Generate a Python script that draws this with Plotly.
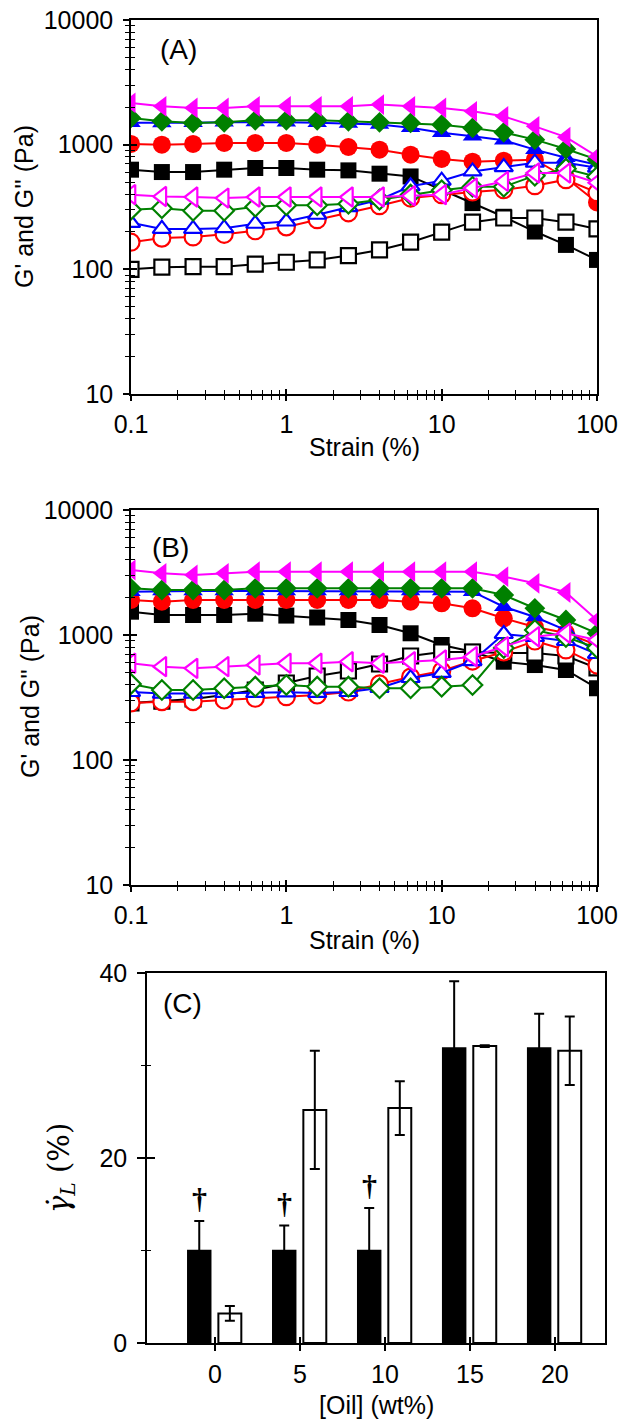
import plotly.graph_objects as go

# ---------------- data ----------------
strain = [0.1, 0.158, 0.251, 0.398, 0.631, 1.0, 1.58, 2.51, 3.98, 6.31,
          10.0, 15.8, 25.1, 39.8, 63.1, 100.0]

# Panel (A): G' (filled) and G'' (open) per oil content
a_gp_0 = [630, 603, 603, 630, 650, 650, 630, 622, 585, 556, 435, 340, 264, 201, 157, 119]
a_gpp_0 = [100, 104, 105, 105, 110, 114, 119, 129, 143, 165, 199, 239, 258, 258, 239, 211]
a_gp_5 = [1013, 1000, 1013, 1032, 1032, 1032, 1000, 958, 912, 831, 768, 730, 744, 758, 543, 344]
a_gpp_5 = [165, 178, 182, 191, 204, 219, 250, 284, 324, 373, 397, 417, 435, 469, 524, 412]
a_gp_10 = [1500, 1490, 1500, 1510, 1520, 1510, 1500, 1480, 1450, 1369, 1248, 1166, 1083, 912, 786, 691]
a_gpp_10 = [236, 211, 211, 214, 232, 242, 274, 315, 362, 464, 514, 610, 660, 717, 717, 654]
a_gp_15 = [1639, 1539, 1494, 1510, 1567, 1567, 1567, 1539, 1510, 1494, 1447, 1362, 1255, 1097, 924, 758]
a_gpp_15 = [301, 309, 295, 295, 318, 327, 327, 336, 362, 397, 431, 460, 460, 564, 642, 553]
a_gp_20 = [2163, 2031, 1971, 1971, 2031, 2031, 2031, 2031, 2096, 2031, 1971, 1851, 1688, 1403, 1149, 805]
a_gpp_20 = [397, 384, 380, 373, 380, 380, 380, 380, 380, 389, 397, 449, 507, 592, 592, 495]

# Panel (B)
b_gp_0 = [1536, 1445, 1445, 1445, 1480, 1430, 1380, 1318, 1202, 1032, 832, 735, 611, 575, 525, 375]
b_gpp_0 = [286, 296, 308, 331, 363, 413, 470, 515, 586, 679, 731, 731, 718, 718, 679, 545]
b_gp_5 = [1905, 1847, 1905, 1905, 1905, 1905, 1905, 1905, 1905, 1847, 1793, 1636, 1360, 1159, 1038, 832]
b_gpp_5 = [286, 293, 293, 302, 312, 321, 331, 350, 406, 461, 515, 619, 731, 895, 759, 575]
b_gp_10 = [2220, 2250, 2250, 2250, 2250, 2250, 2250, 2250, 2250, 2250, 2250, 2220, 1684, 1393, 1096, 718]
b_gpp_10 = [350, 340, 340, 344, 344, 348, 344, 350, 377, 453, 497, 619, 1019, 964, 895, 705]
b_gp_15 = [2364, 2291, 2291, 2291, 2364, 2364, 2364, 2364, 2364, 2364, 2364, 2364, 2089, 1636, 1318, 1032]
b_gpp_15 = [406, 363, 363, 375, 386, 398, 386, 386, 375, 375, 386, 398, 787, 1096, 964, 787]
b_gp_20 = [3311, 3117, 3020, 3117, 3209, 3209, 3209, 3209, 3209, 3209, 3209, 3209, 2927, 2592, 2188, 1318]
b_gpp_20 = [594, 558, 541, 558, 575, 594, 594, 611, 594, 611, 631, 671, 806, 969, 1032, 912]

# Panel (C): limiting strain per oil content
oil = ["0", "5", "10", "15", "20"]
gl_black = [10.0, 10.0, 10.0, 31.9, 31.9]
gl_black_err = [3.2, 2.7, 4.6, 7.2, 3.7]
gl_white = [3.2, 25.2, 25.4, 32.1, 31.6]
gl_white_err = [0.8, 6.4, 2.9, 0.1, 3.7]
dagger_marked = [True, True, True, False, False]

# ---------------- layout helpers ----------------
W, H = 629, 1420
SANS = "Liberation Sans"
SERIF = "Liberation Serif"
FS = 25


def fx(px):
    return px / W


def fy(py):
    return 1 - py / H


styles = [
    ("0", "square", "black", 16),
    ("5", "circle", "#ff0000", 18),
    ("10", "triangle-up", "#0000ff", 17),
    ("15", "diamond", "#008000", 16),
    ("20", "triangle-left", "#ff00ff", 18),
]

panel_a = [(a_gp_0, a_gpp_0), (a_gp_5, a_gpp_5), (a_gp_10, a_gpp_10),
           (a_gp_15, a_gpp_15), (a_gp_20, a_gpp_20)]
panel_b = [(b_gp_0, b_gpp_0), (b_gp_5, b_gpp_5), (b_gp_10, b_gpp_10),
           (b_gp_15, b_gpp_15), (b_gp_20, b_gpp_20)]

fig = go.Figure()


def add_sweep(series, xa, ya):
    for (label, sym, col, size), (gp, gpp) in zip(styles, series):
        fig.add_trace(go.Scatter(
            x=strain, y=gp, xaxis=xa, yaxis=ya, mode="lines+markers",
            name=f"G' {label}%", showlegend=False,
            line=dict(color=col, width=2),
            marker=dict(symbol=sym, size=size, color=col, line=dict(width=0))))
        fig.add_trace(go.Scatter(
            x=strain, y=gpp, xaxis=xa, yaxis=ya, mode="lines+markers",
            name=f"G'' {label}%", showlegend=False,
            line=dict(color=col, width=2),
            marker=dict(symbol=sym, size=size - 1, color="white",
                        line=dict(color=col, width=2.2))))


add_sweep(panel_a, "x", "y")
add_sweep(panel_b, "x2", "y2")

fig.add_trace(go.Bar(
    x=oil, y=gl_black, xaxis="x3", yaxis="y3", width=0.27, offset=-0.32,
    showlegend=False, marker=dict(color="black", line=dict(color="black", width=1.5)),
    error_y=dict(type="data", array=gl_black_err, color="black", thickness=2, width=5)))
fig.add_trace(go.Bar(
    x=oil, y=gl_white, xaxis="x3", yaxis="y3", width=0.27, offset=0.04,
    showlegend=False, marker=dict(color="white", line=dict(color="black", width=2)),
    error_y=dict(type="data", array=gl_white_err, color="black", thickness=2, width=5)))

# empty traces so the overlay (inward tick) axes get a subplot
for xa, ya in [("x4", "y4"), ("x5", "y5"), ("x6", "y6")]:
    fig.add_trace(go.Scatter(x=[], y=[], xaxis=xa, yaxis=ya, showlegend=False))

# ---------------- axes ----------------
log_minor_x = [m * 10.0 ** e for e in (-1, 0, 1) for m in range(2, 10)]
log_minor_y = [m * 10.0 ** e for e in (1, 2, 3) for m in range(2, 10)]
xt = [0.1, 1, 10, 100]
xtt = ["0.1", "1", "10", "100"]
yt = [10, 100, 1000, 10000]
ytt = ["10", "100", "1000", "10000"]

dom_x = [fx(131), fx(597)]
dom_ya = [fy(394), fy(20)]
dom_yb = [fy(885), fy(510)]
dom_xc = [fx(147), fx(605)]
dom_yc = [fy(1343), fy(973)]

tickfont = dict(family=SANS, size=FS, color="black")


def log_x(domain, anchor, ticks, labels, overlay=None):
    d = dict(type="log", range=[-1, 2], domain=domain, anchor=anchor,
             tickvals=xt, ticktext=xtt, showgrid=False, zeroline=False,
             ticklen=5, tickwidth=1.5, tickcolor="black",
             minor=dict(tickvals=log_minor_x, ticks=ticks, ticklen=4,
                        tickwidth=1.3, tickcolor="black"),
             ticks=ticks, tickfont=tickfont, automargin=False)
    if overlay:
        d.update(overlaying=overlay, showline=False, showticklabels=False)
    else:
        d.update(showline=True, linecolor="black", linewidth=1.5, mirror=True,
                 showticklabels=labels, ticklabelstandoff=2)
    return d


def log_y(domain, anchor, ticks, overlay=None):
    d = dict(type="log", range=[1, 4], domain=domain, anchor=anchor,
             tickvals=yt, ticktext=ytt, showgrid=False, zeroline=False,
             ticklen=6, tickwidth=1.5, tickcolor="black",
             minor=dict(tickvals=log_minor_y, ticks=ticks, ticklen=4,
                        tickwidth=1.3, tickcolor="black"),
             ticks=ticks, tickfont=tickfont, automargin=False)
    if overlay:
        d.update(overlaying=overlay, showline=False, showticklabels=False)
    else:
        d.update(showline=True, linecolor="black", linewidth=1.5, mirror=True,
                 ticklabelstandoff=5)
    return d


fig.update_layout(
    xaxis=log_x(dom_x, "y", "outside", True),
    yaxis=log_y(dom_ya, "x", "outside"),
    xaxis2=log_x(dom_x, "y2", "outside", True),
    yaxis2=log_y(dom_yb, "x2", "outside"),
    xaxis4=log_x(dom_x, "y", "inside", False, overlay="x"),
    yaxis4=log_y(dom_ya, "x", "inside", overlay="y"),
    xaxis5=log_x(dom_x, "y2", "inside", False, overlay="x2"),
    yaxis5=log_y(dom_yb, "x2", "inside", overlay="y2"),
    xaxis3=dict(type="category", range=[-0.8, 4.59], domain=dom_xc, anchor="y3",
                showline=True, linecolor="black", linewidth=1.5, mirror=True,
                ticks="outside", ticklen=6, tickwidth=1.5, tickcolor="black",
                showgrid=False, zeroline=False, tickfont=tickfont,
                ticklabelstandoff=2, automargin=False),
    yaxis3=dict(range=[0, 40], domain=dom_yc, anchor="x3",
                tickvals=[0, 20, 40], showline=True, linecolor="black",
                linewidth=1.5, mirror=True, ticks="outside", ticklen=8,
                tickwidth=1.5, tickcolor="black",
                minor=dict(tickvals=[10, 30], ticks="outside", ticklen=4,
                           tickwidth=1.3, tickcolor="black"),
                showgrid=False, zeroline=False, tickfont=tickfont,
                ticklabelstandoff=5, automargin=False),
    xaxis6=dict(range=[-0.8, 4.59], overlaying="x3", anchor="y3",
                tickvals=[0, 1, 2, 3, 4], ticks="inside", ticklen=6,
                tickwidth=1.5, tickcolor="black", showticklabels=False,
                showline=False, showgrid=False, zeroline=False),
    yaxis6=dict(range=[0, 40], overlaying="y3", anchor="x3",
                tickvals=[0, 20, 40], ticks="inside", ticklen=8,
                tickwidth=1.5, tickcolor="black", showticklabels=False,
                minor=dict(tickvals=[10, 30], ticks="inside", ticklen=4,
                           tickwidth=1.3, tickcolor="black"),
                showline=False, showgrid=False, zeroline=False),
    barmode="overlay",
    width=W, height=H,
    margin=dict(l=0, r=0, t=0, b=0),
    paper_bgcolor="white", plot_bgcolor="white",
    showlegend=False,
)

# ---------------- text ----------------
ann = []


def label(text, px, py, size=FS, angle=0, family=SANS):
    ann.append(dict(text=text, x=fx(px), y=fy(py), xref="paper", yref="paper",
                    xanchor="center", yanchor="middle", showarrow=False,
                    textangle=angle, font=dict(family=family, size=size, color="black")))


label("(A)", 178, 50, size=28)
label("(B)", 170, 547, size=28)
label("(C)", 182, 1004, size=28)
label("Strain (%)", 364, 447)
label("Strain (%)", 364, 940)
label("G' and G'' (Pa)", 24, 207, angle=-90)
label("G' and G'' (Pa)", 30, 697, angle=-90)
label("[Oil] (wt%)", 376, 1405)
label("<i>γ̇</i><sub><i>L</i></sub> (%)", 61, 1168, size=29, angle=-90, family="DejaVu Serif")

for i, (v, e, mark) in enumerate(zip(gl_black, gl_black_err, dagger_marked)):
    if mark:
        ann.append(dict(text="<b>†</b>", x=i - 0.185, y=v + e, xref="x3", yref="y3",
                        xanchor="center", yanchor="bottom", yshift=4,
                        showarrow=False, font=dict(family=SERIF, size=30, color="black")))

fig.update_layout(annotations=ann)

fig.write_html("out.html")
